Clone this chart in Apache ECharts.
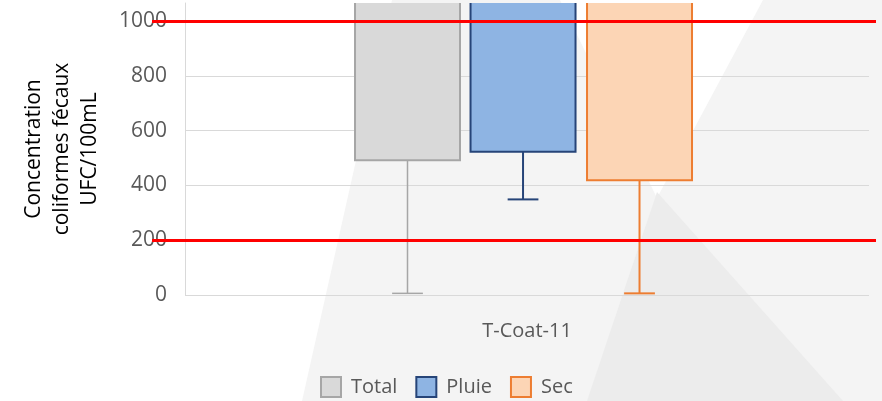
<!DOCTYPE html>
<html>
<head>
<meta charset="utf-8">
<script src="https://cdn.jsdelivr.net/npm/echarts@6/dist/echarts.min.js"></script>
<style>
  html, body { margin: 0; padding: 0; background: #fff; }
  #chart { width: 882px; height: 401px; }
</style>
</head>
<body>
<div id="chart"></div>
<script>
// données
var categories = ['T-Coat-11'];
var seriesNames = ['Total', 'Pluie', 'Sec'];
var minValues = [6, 349, 6];
var q1Values = [492, 523, 419];
var q3Values = [1100, 1100, 1100];   // au-dessus du cadre, coupé
var yTicks = [0, 200, 400, 600, 800, 1000];
var limitValues = [1000, 200];

var fills = ['#d9d9d9', '#8eb4e3', '#fcd5b5'];
var strokes = ['#a6a6a6', '#264478', '#ed7d31'];
var boxOffsets = [-0.1747, -0.0058, 0.1645];
var boxWidthRatio = 0.1535;
var capRatio = 0.045;
var yMax = 1066;

var chart = echarts.init(document.getElementById('chart'));

function makeRender(k) {
  return function (params, api) {
    var cat = api.value(0);
    var band = api.size([1, 0])[0];
    var cx = api.coord([cat, 0])[0] + boxOffsets[k] * band;
    var w = band * boxWidthRatio;
    var cap = band * capRatio;
    var yMin = api.coord([cat, api.value(1)])[1];
    var yQ1 = api.coord([cat, api.value(2)])[1];
    var yTop = api.coord([cat, api.value(3)])[1];
    var lw = k === 0 ? 1.5 : 2;
    return {
      type: 'group',
      children: [
        { type: 'line', shape: { x1: cx, y1: yQ1, x2: cx, y2: yMin }, style: { stroke: strokes[k], lineWidth: lw } },
        { type: 'line', shape: { x1: cx - cap / 2, y1: yMin, x2: cx + cap / 2, y2: yMin }, style: { stroke: strokes[k], lineWidth: lw } },
        { type: 'rect', shape: { x: cx - w / 2, y: yTop, width: w, height: yQ1 - yTop }, style: { fill: fills[k], stroke: strokes[k], lineWidth: 2 } }
      ]
    };
  };
}

var boxSeries = seriesNames.map(function (name, k) {
  return {
    name: name,
    type: 'custom',
    xAxisIndex: 0,
    yAxisIndex: 0,
    clip: true,
    renderItem: makeRender(k),
    encode: { x: 0, y: [1, 2, 3] },
    data: categories.map(function (c, i) { return [i, minValues[k], q1Values[k], q3Values[k]]; }),
    z: 3
  };
});

var option = {
  backgroundColor: '#f4f4f4',
  animation: false,
  textStyle: { fontFamily: 'Open Sans' },
  graphic: [
    { type: 'polygon', z: -10, silent: true, shape: { points: [[0, 0], [392, 0], [302, 401], [0, 401]] }, style: { fill: '#ffffff' } },
    { type: 'polygon', z: -10, silent: true, shape: { points: [[657, 198], [763, 0], [560, 0]] }, style: { fill: '#ffffff' } },
    { type: 'polygon', z: -10, silent: true, shape: { points: [[657, 192], [843, 401], [587, 401]] }, style: { fill: '#ececec' } }
  ],
  legend: {
    left: 320,
    top: 376,
    padding: 0,
    itemWidth: 20,
    itemHeight: 20,
    itemGap: 18,
    selectedMode: false,
    textStyle: { fontSize: 20, color: '#595959', fontFamily: 'Open Sans', padding: [0, 0, 0, 5] },
    data: seriesNames.map(function (n, k) {
      return { name: n, icon: 'rect', itemStyle: { color: fills[k], borderColor: strokes[k], borderWidth: 2 } };
    })
  },
  grid: [
    { left: 185, right: 13, top: 3, bottom: 106 },
    { left: 152, right: 6, top: 3, bottom: 106 }
  ],
  xAxis: [
    {
      type: 'category',
      gridIndex: 0,
      data: categories,
      axisLine: { show: false },
      axisTick: { show: false },
      axisLabel: { fontSize: 20, color: '#595959', margin: 26, fontFamily: 'Open Sans' }
    },
    { type: 'value', gridIndex: 1, min: 0, max: 1, show: false }
  ],
  yAxis: [
    {
      type: 'value',
      gridIndex: 0,
      min: 0,
      max: yMax,
      interval: 200,
      name: 'Concentration\ncoliformes fécaux\nUFC/100mL',
      nameLocation: 'middle',
      nameRotate: 90,
      nameGap: 81,
      nameTextStyle: { fontSize: 21, color: '#000', lineHeight: 28, fontFamily: 'Open Sans' },
      axisLine: { show: true, lineStyle: { color: '#d9d9d9', width: 1 } },
      axisTick: { show: false },
      axisLabel: {
        fontSize: 21, color: '#595959', margin: 18, fontFamily: 'Open Sans', showMaxLabel: false,
        formatter: function (v) { return yTicks.indexOf(v) >= 0 ? String(v) : ''; }
      },
      splitLine: { show: true, showMaxLine: false, lineStyle: { color: '#d9d9d9', width: 1 } }
    },
    { type: 'value', gridIndex: 1, min: 0, max: yMax, show: false, splitLine: { show: false } }
  ],
  series: boxSeries.concat([{
    name: 'limites',
    type: 'line',
    xAxisIndex: 1,
    yAxisIndex: 1,
    data: [],
    z: 5,
    markLine: {
      silent: true,
      symbol: 'none',
      label: { show: false },
      lineStyle: { color: '#ff0000', width: 3, type: 'solid' },
      data: limitValues.map(function (v) { return { yAxis: v }; })
    }
  }])
};

chart.setOption(option);
</script>
</body>
</html>
